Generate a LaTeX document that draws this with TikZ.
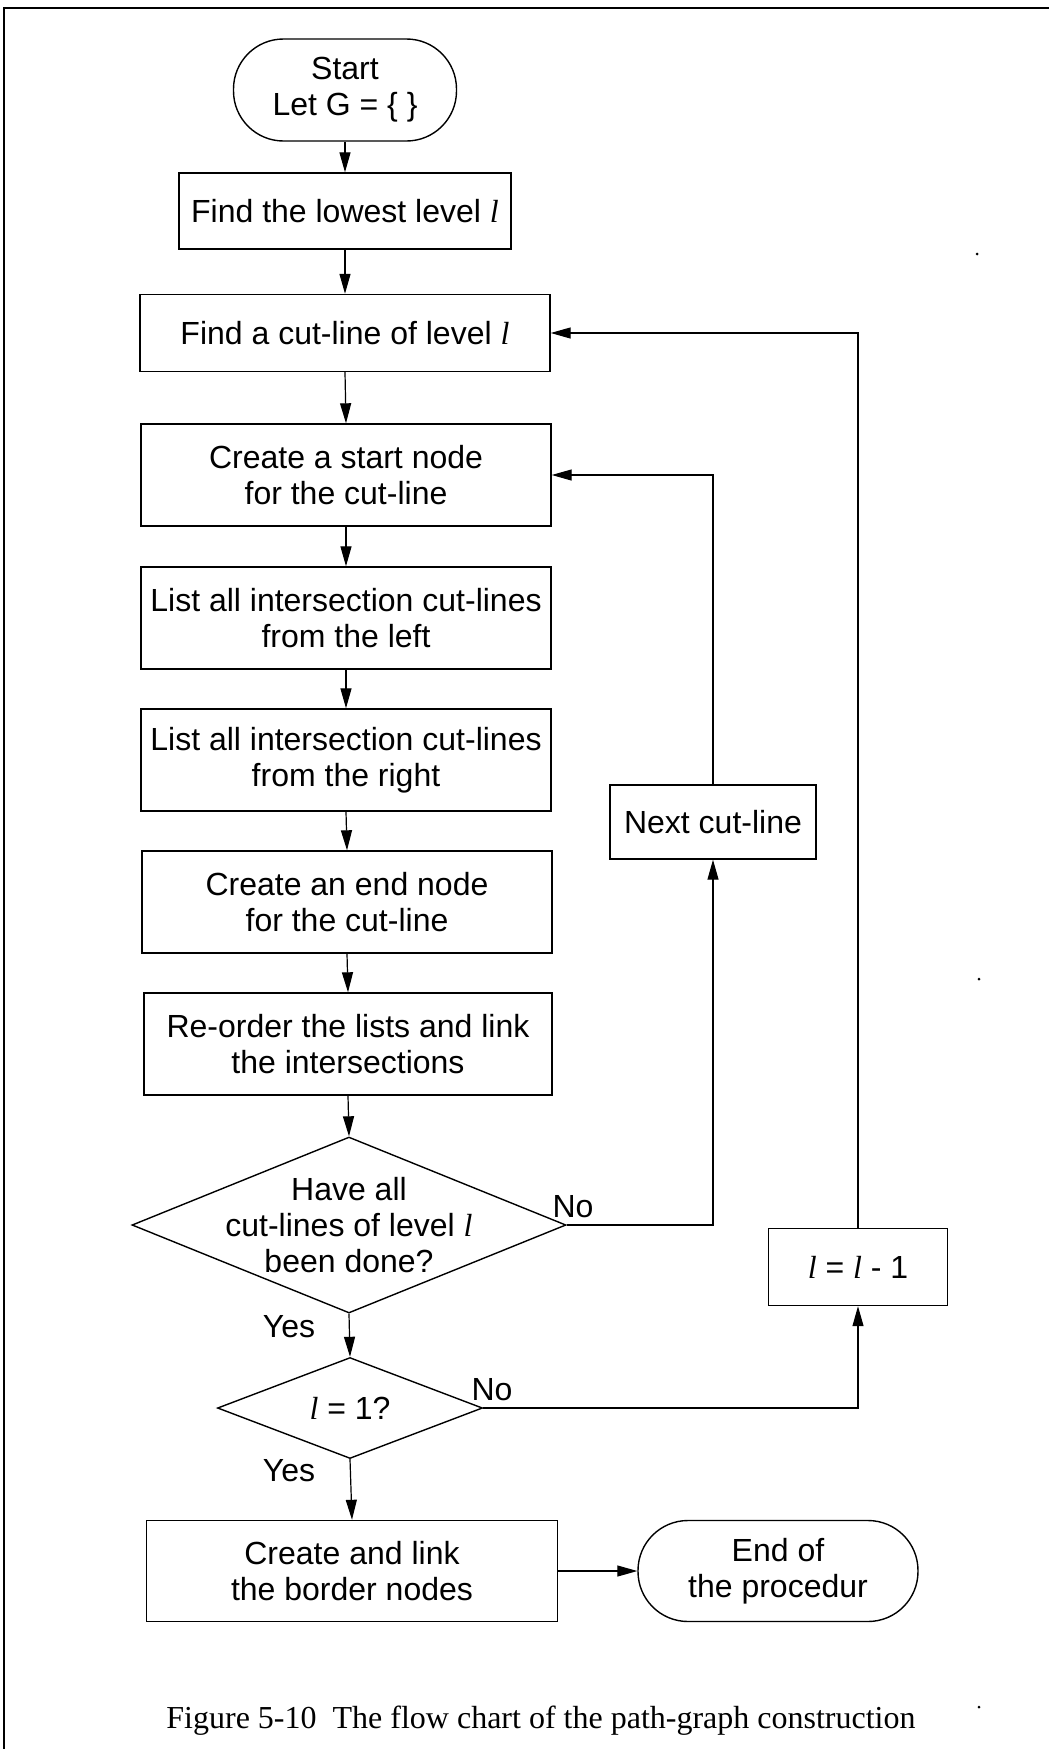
\documentclass[tikz,border=0pt]{standalone}
\usepackage{fontspec}
\setmainfont{Liberation Sans}
\newfontfamily\tmsfont{Liberation Serif}
\newcommand\lvar{{\tmsfont\itshape l}}
\usetikzlibrary{arrows.meta,shapes.geometric}
\begin{document}
\begin{tikzpicture}[x=1pt,y=-1pt,
  every node/.style={font=\fontsize{32}{36}\selectfont, inner sep=0pt},
  box/.style={draw, line width=1.4pt, rectangle, align=center},
  term/.style={draw, line width=1.4pt, rectangle, rounded corners=50pt, align=center},
  dia/.style={draw, line width=1.4pt, diamond, align=center},
  arr/.style={line width=1.2pt, -{Triangle[length=20pt,width=11pt]}},
  lbl/.style={anchor=base}]
\useasboundingbox (0,0) rectangle (1049,1749);
\draw[line width=2.5pt] (1049,8) -- (4,8) -- (4,1749);

\node[term, minimum width=223pt, minimum height=102pt] (start) at (345,90) {Start\\Let G = \{ \}};
\node[box, minimum width=332pt, minimum height=76pt] (low) at (345,211) {Find the lowest level \lvar};
\node[box, minimum width=410pt, minimum height=77pt] (cut) at (345,333) {Find a cut-line of level \lvar};
\node[box, minimum width=410pt, minimum height=102pt] (snode) at (346,475) {Create a start node\\for the cut-line};
\node[box, minimum width=410pt, minimum height=102pt] (lft) at (346,618) {List all intersection cut-lines\\from the left};
\node[box, minimum width=410pt, minimum height=102pt] (rgt) at (346,760) {List all intersection cut-lines\\from the right};
\node[box, minimum width=410pt, minimum height=102pt] (enode) at (347,902) {Create an end node\\for the cut-line};
\node[box, minimum width=408pt, minimum height=102pt] (reord) at (348,1044) {Re-order the lists and link\\the intersections};
\node[dia, minimum width=434pt, minimum height=176pt, inner ysep=-32pt, aspect=2.47] (d1) at (349,1225) {Have all\\cut-lines of level \lvar\\been done?};
\node[dia, minimum width=265pt, minimum height=101pt, aspect=2.62] (d2) at (350,1408) {\lvar{} = 1?};
\node[box, minimum width=411pt, minimum height=101pt] (border) at (352,1571) {Create and link\\the border nodes};
\node[term, minimum width=280pt, minimum height=101pt] (endt) at (778,1571) {End of\\the procedur};
\node[box, minimum width=206pt, minimum height=74pt] (next) at (713,822) {Next cut-line};
\node[box, minimum width=179pt, minimum height=77pt] (lm) at (858,1267) {\lvar{} = \lvar{} - 1};

\node[lbl] (no1) at (573,1217) {No};
\node[lbl] (no2) at (492,1400) {No};
\node[lbl] (yes1) at (289,1337) {Yes};
\node[lbl] (yes2) at (289,1481) {Yes};

\draw[arr] (start.south) -- (low.north);
\draw[arr] (low.south) -- (cut.north);
\draw[arr] (cut.south) -- (snode.north);
\draw[arr] (snode.south) -- (lft.north);
\draw[arr] (lft.south) -- (rgt.north);
\draw[arr] (rgt.south) -- (enode.north);
\draw[arr] (enode.south) -- (reord.north);
\draw[arr] (reord.south) -- (d1.north);
\draw[arr] (d1.south) -- (d2.north);
\draw[arr] (d2.south) -- (border.north);
\draw[arr] (border.east) -- (endt.west);
\draw[arr] (d1.east) -| (next.south);
\draw[arr] (next.north) |- (snode.east);
\draw[arr] (d2.east) -| (lm.south);
\draw[arr] (lm.north) |- (cut.east);

\node[font=\fontsize{32}{36}\selectfont\tmsfont, anchor=base] (cap) at (541,1728) {Figure 5-10\ \ The flow chart of the path-graph construction};

\fill (977,254) circle (1.5pt);
\fill (979,979) circle (1.5pt);
\fill (979,1707) circle (1.5pt);
\end{tikzpicture}
\end{document}
